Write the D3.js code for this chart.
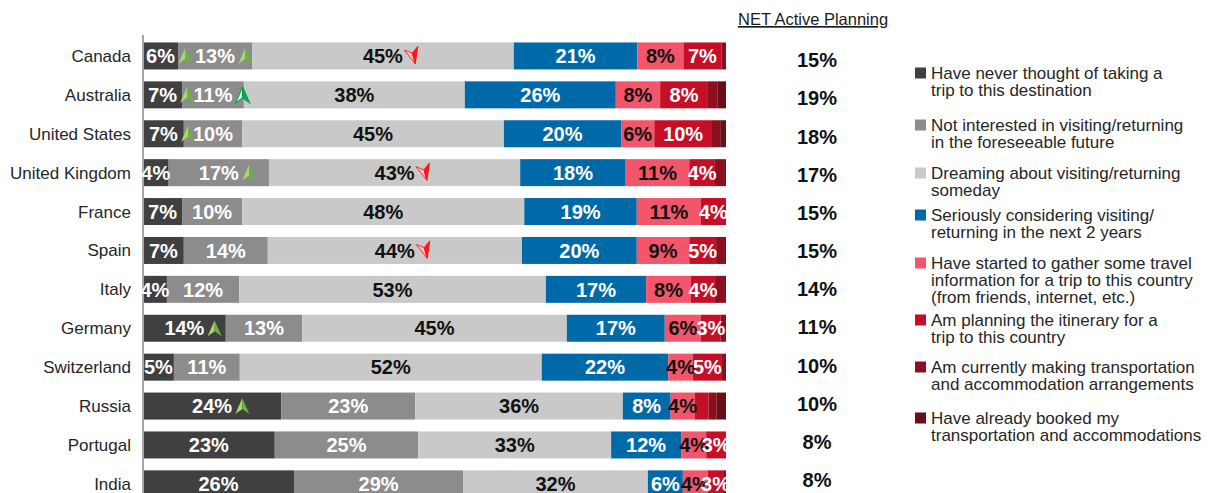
<!DOCTYPE html>
<html>
<head>
<meta charset="utf-8">
<script src="https://cdn.jsdelivr.net/npm/d3@7"></script>
<style>
  html, body { margin: 0; padding: 0; background: #fff; }
  svg { display: block; font-family: "Liberation Sans", Arial, sans-serif; }
</style>
</head>
<body>
<svg id="chart" width="1208" height="493"></svg>
<script>
// ---------- DATA ----------
const countries = ["Canada","Australia","United States","United Kingdom","France","Spain","Italy","Germany","Switzerland","Russia","Portugal","India"];

const neverThought   = [6.0, 6.7, 7.0, 4.4, 6.7, 7.0, 4.1, 14.2, 5.3, 23.7, 22.6, 25.9];
const notInterested  = [12.7, 10.6, 10.0, 17.2, 10.3, 14.4, 12.4, 13.1, 11.3, 23.0, 24.6, 29.0];
const dreaming       = [44.9, 37.9, 44.9, 43.1, 48.4, 43.6, 52.6, 45.4, 51.8, 35.6, 33.1, 31.7];
const seriously      = [21.2, 25.9, 20.1, 18.1, 19.3, 19.7, 17.2, 16.8, 21.7, 8.2, 12.0, 6.0];
const gathering      = [7.9, 7.6, 5.7, 10.9, 11.0, 9.0, 7.7, 6.2, 4.2, 4.1, 4.3, 4.3];
const planning       = [6.5, 8.2, 9.9, 4.4, 4.3, 4.6, 4.1, 3.4, 5.0, 2.4, 3.4, 2.6];
const arranging      = [0.8, 1.6, 1.4, 1.9, 0.0, 1.7, 1.9, 0.9, 0.7, 1.4, 0.0, 0.5];
const booked         = [0.0, 1.5, 1.0, 0.0, 0.0, 0.0, 0.0, 0.0, 0.0, 1.6, 0.0, 0.0];

const netActive = ["15%","19%","18%","17%","15%","15%","14%","11%","10%","10%","8%","8%"];

const seriesNames = [
  ["Have never thought of taking a", "trip to this destination"],
  ["Not interested in visiting/returning", "in the foreseeable future"],
  ["Dreaming about visiting/returning", "someday"],
  ["Seriously considering visiting/", "returning in the next 2 years"],
  ["Have started to gather some travel", "information for a trip to this country", "(from friends, internet, etc.)"],
  ["Am planning the itinerary for a", "trip to this country"],
  ["Am currently making transportation", "and accommodation arrangements"],
  ["Have already booked my", "transportation and accommodations"]
];

// change markers: [country, series index, direction]
const changeMarkers = [
  ["Canada", 0, "up"], ["Canada", 1, "up"], ["Canada", 2, "down"],
  ["Australia", 0, "up"], ["Australia", 1, "upBright"],
  ["United States", 0, "up"],
  ["United Kingdom", 1, "up"], ["United Kingdom", 2, "down"],
  ["Spain", 2, "down"],
  ["Germany", 0, "up"],
  ["Russia", 0, "up"]
];

const netHeader = "NET Active Planning";

// ---------- STYLE ----------
const colors = ["#404040","#8c8c8c","#c9c9c9","#006aa9","#f3566b","#c50f27","#8c0f1f","#6a0f18"];
const labelColors = ["#ffffff","#ffffff","#111111","#ffffff","#111111","#ffffff", null, null];

// ---------- BUILD ----------
const allSeries = [neverThought, notInterested, dreaming, seriously, gathering, planning, arranging, booked];
const table = countries.map((c, i) => {
  const row = { country: c };
  allSeries.forEach((s, k) => row["s" + k] = s[i]);
  return row;
});
const keys = allSeries.map((s, k) => "s" + k);
const stacked = d3.stack().keys(keys)(table);

const svg = d3.select("#chart");

const x = d3.scaleLinear().domain([0, 100]).range([143, 726]);
const y = d3.scaleBand().domain(countries).range([36.5, 503.3]).paddingInner(0.306).paddingOuter(0.153);
const yNet = d3.scalePoint().domain(countries).range([60, 480]);

// bars
const layers = svg.append("g").selectAll("g").data(stacked).join("g")
  .attr("fill", (d, i) => colors[i]);
layers.selectAll("rect").data(d => d).join("rect")
  .attr("x", d => x(d[0]))
  .attr("y", d => y(d.data.country))
  .attr("width", d => Math.max(0, x(d[1]) - x(d[0])))
  .attr("height", y.bandwidth());

// axis line
const yAxis = svg.append("g").attr("transform", "translate(143,0)")
  .call(d3.axisLeft(y).tickSize(0).tickFormat(""));
yAxis.select(".domain").attr("stroke", "#a6a6a6").attr("stroke-width", 2)
  .attr("d", "M0,35V493");

// category labels
svg.append("g").selectAll("text").data(countries).join("text")
  .attr("x", 131)
  .attr("y", d => y(d) + y.bandwidth() / 2)
  .attr("dy", "0.35em")
  .attr("text-anchor", "end")
  .attr("font-size", 17)
  .attr("fill", "#262626")
  .text(d => d);

// segment labels
const labelG = svg.append("g");
const labelNodes = {};
stacked.forEach((layer, k) => {
  if (!labelColors[k]) return;
  layer.forEach(d => {
    const v = d[1] - d[0];
    if (v < 2.5) return;
    const t = labelG.append("text")
      .attr("x", (x(d[0]) + x(d[1])) / 2)
      .attr("y", y(d.data.country) + y.bandwidth() / 2)
      .attr("dy", "0.36em")
      .attr("text-anchor", "middle")
      .attr("font-size", 20)
      .attr("font-weight", "bold")
      .attr("fill", labelColors[k])
      .text(Math.round(v) + "%");
    labelNodes[d.data.country + "|" + k] = t;
  });
});

// change markers
const markG = svg.append("g");
changeMarkers.forEach(([c, k, dir]) => {
  const t = labelNodes[c + "|" + k];
  if (!t) return;
  const bb = t.node().getBBox();
  const cx = bb.x + bb.width + 10;
  const cy = y(c) + y.bandwidth() / 2;
  const g = markG.append("g").attr("transform", `translate(${cx},${cy})`);
  if (dir === "down") {
    const gg = g.append("g").attr("transform", "rotate(-15)");
    gg.append("path").attr("d", "M0,8 L-7,-8 L0,-3 Z").attr("fill", "#ffc4c4").attr("stroke", "#ff2a2a").attr("stroke-width", 0.9);
    gg.append("path").attr("d", "M0,8 L0,-3 L7,-8 Z").attr("fill", "#ff1414").attr("stroke", "#ff1414").attr("stroke-width", 0.9);
  } else if (dir === "upBright") {
    g.append("path").attr("d", "M0,-8 L-7,8 L0,3 Z").attr("fill", "#e8f7ee").attr("stroke", "#00a651").attr("stroke-width", 1.1);
    g.append("path").attr("d", "M0,-8 L0,3 L7,8 Z").attr("fill", "#00a651").attr("stroke", "#00a651").attr("stroke-width", 1.1);
  } else {
    g.append("path").attr("d", "M0,-8 L-7,8 L0,3 Z").attr("fill", "#a9d66e");
    g.append("path").attr("d", "M0,-8 L0,3 L7,8 Z").attr("fill", "#6db33f");
  }
});

// NET column
svg.append("text")
  .attr("x", 738).attr("y", 25)
  .attr("font-size", 16.5)
  .attr("fill", "#1a1a1a")
  .attr("text-decoration", "underline")
  .text(netHeader);

svg.append("g").selectAll("text").data(countries).join("text")
  .attr("x", 817)
  .attr("y", d => yNet(d))
  .attr("dy", "0.36em")
  .attr("text-anchor", "middle")
  .attr("font-size", 20)
  .attr("font-weight", "bold")
  .attr("fill", "#111")
  .text((d, i) => netActive[i]);

// legend
const legendY = [73, 125, 173, 215, 263, 320, 367, 418];
const lg = svg.append("g");
seriesNames.forEach((lines, i) => {
  const g = lg.append("g").attr("transform", `translate(915,${legendY[i]})`);
  g.append("rect").attr("x", 0).attr("y", -5.5).attr("width", 11).attr("height", 11).attr("fill", colors[i]);
  const t = g.append("text").attr("font-size", 17).attr("fill", "#262626");
  lines.forEach((ln, j) => {
    t.append("tspan").attr("x", 16).attr("y", j * 17).attr("dy", "0.35em").text(ln);
  });
});
</script>
</body>
</html>
